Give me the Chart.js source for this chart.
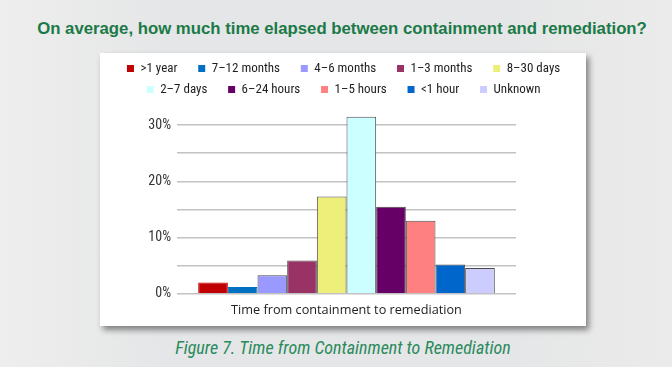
<!DOCTYPE html>
<html>
<head>
<meta charset="utf-8">
<script src="https://cdn.jsdelivr.net/npm/chart.js@4.4.1/dist/chart.umd.min.js"></script>
<style>
    html, body { margin: 0; padding: 0; }
    body {
        width: 672px; height: 367px; position: relative; overflow: hidden;
        background: linear-gradient(90deg, #eeeeee 0%, #e5e6e7 25%, #e5e6e7 75%, #ebebeb 100%);
    }
    #title {
        position: absolute; left: 0; top: 19px; width: 684px; text-align: center;
        font: bold 16.75px "Liberation Sans", sans-serif;
        color: #1b7a47;
    }
    #panel {
        position: absolute; left: 100px; top: 53px; width: 486px; height: 273px;
        background: #fff;
        box-shadow: 3px 4px 6px rgba(0, 0, 0, 0.45);
    }
    #caption {
        position: absolute; left: 0; top: 337px; width: 686px; text-align: center;
        font: italic 18px "Roboto Condensed", "Liberation Sans", sans-serif;
        color: #2a8a5c;
    }
</style>
</head>
<body>
<div id="title">On average, how much time elapsed between containment and remediation?</div>
<div id="panel"><canvas id="myChart" width="486" height="273"></canvas></div>
<div id="caption">Figure 7. Time from Containment to Remediation</div>
<script>
    // categories / values (percent)
    var categories = ['Time from containment to remediation'];
    var seriesNames = ['>1 year', '7\u201312 months', '4\u20136 months', '1\u20133 months', '8\u201330 days',
        '2\u20137 days', '6\u201324 hours', '1\u20135 hours', '<1 hour', 'Unknown'];
    var seriesValues = [2.0, 1.2, 3.3, 5.9, 17.3, 31.5, 15.5, 13.0, 5.2, 4.6];
    var seriesColors = ['#c00000', '#0070c0', '#9999ff', '#993366', '#eeee7a',
        '#ccffff', '#660066', '#ff8080', '#0066cc', '#ccccff'];
    var gridTicks = [0, 5, 10, 15, 20, 25, 30];
    var labelTicks = [0, 10, 20, 30];

    var datasets = seriesNames.map(function (name, i) {
        return {
            label: name,
            data: [seriesValues[i]],
            backgroundColor: seriesColors[i],
            borderColor: i < 2 ? seriesColors[i] : '#4d4d4d',
            borderWidth: 1,
            barPercentage: 1,
            categoryPercentage: 0.875
        };
    });

    var narrow = '"Roboto Condensed", "Liberation Sans", sans-serif';
    var defaultLabels = Chart.defaults.plugins.legend.labels.generateLabels;

    var ctx = document.getElementById('myChart').getContext('2d');
    var chart = new Chart(ctx, {
        type: 'bar',
        data: {
            labels: categories,
            datasets: datasets
        },
        options: {
            responsive: false,
            animation: false,
            layout: { padding: { left: 17, right: 3, top: 1, bottom: 0 } },
            plugins: {
                tooltip: { enabled: false },
                legend: {
                    position: 'top',
                    labels: {
                        boxWidth: 7,
                        boxHeight: 7,
                        padding: 8,
                        color: '#1e1e1e',
                        font: { family: narrow, size: 13 },
                        generateLabels: function (c) {
                            // extra trailing space gives the wide gap between items
                            return defaultLabels(c).map(function (item) {
                                item.text = item.text + '\u2003\u200A';
                                item.lineWidth = 0;
                                item.strokeStyle = item.fillStyle;
                                return item;
                            });
                        }
                    }
                }
            },
            scales: {
                x: {
                    grid: { display: false, drawTicks: false },
                    border: { display: false },
                    ticks: {
                        padding: 9.5,
                        color: '#222',
                        font: { family: '"Open Sans", sans-serif', size: 12.7, lineHeight: 1.04 }
                    }
                },
                y: {
                    min: 0,
                    max: 33.4,
                    border: { display: false },
                    grid: {
                        drawTicks: false,
                        lineWidth: 1.5,
                        color: '#c2c2c2'
                    },
                    ticks: {
                        padding: 6,
                        color: '#333',
                        font: { family: narrow, size: 14 },
                        callback: function (v) {
                            return labelTicks.indexOf(v) >= 0 ? v + '%' : '';
                        }
                    },
                    afterBuildTicks: function (s) {
                        s.ticks = gridTicks.map(function (v) { return { value: v }; });
                    },
                    afterFit: function (s) { s.width = 60; }
                },
                y2: {
                    position: 'right',
                    grid: { display: false },
                    border: { display: false },
                    ticks: { display: false },
                    afterFit: function (s) { s.width = 67; }
                }
            }
        }
    });
</script>
</body>
</html>
